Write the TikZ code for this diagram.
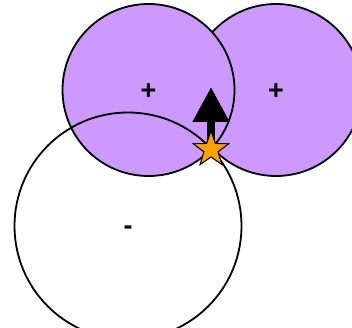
\documentclass[tikz,border=0pt]{standalone}
\usepackage{fontspec}
\setmainfont{Liberation Sans}
\usetikzlibrary{arrows.meta, shapes.geometric}
\definecolor{lilac}{HTML}{CC99FF}
\definecolor{starorange}{HTML}{FFA000}
\newcommand{\chargesign}[2]{\smash{\raisebox{#2}{#1}}}

\begin{document}
\begin{tikzpicture}[
  x=1pt, y=-1pt,
  lobe/.style={circle, draw=black, line width=1.8pt, fill=#1, inner sep=0pt,
               font=\fontsize{27}{27}\selectfont\bfseries},
  hole/.style={circle, draw=black, line width=1.8pt, inner sep=0pt,
               font=\fontsize{27}{27}\selectfont\bfseries},
  mark star/.style={star, star points=5, star point ratio=2.5, draw=black,
                    line width=0.9pt, fill=starorange, minimum size=37pt, inner sep=0pt},
  push/.style={-{Triangle[length=35pt, width=35pt]}, line width=8pt}
]
\useasboundingbox (0,0) rectangle (352,328);
\clip (0,0) rectangle (352,328);
\node[lobe=lilac, minimum size=172pt] (right) at (276,90)  {\chargesign{+}{-10pt}};
\node[lobe=lilac, minimum size=172pt] (left)  at (148.5,90) {\chargesign{+}{-10pt}};
\node[hole, minimum size=227pt]       (low)   at (128,226) {\chargesign{-}{-8.5pt}};
\coordinate (tip) at (211,87);
\node[mark star] (spot) at (211,149.5) {};
\draw[push] (spot.center) -- (tip);
\node[mark star] at (spot) {};
\end{tikzpicture}
\end{document}
